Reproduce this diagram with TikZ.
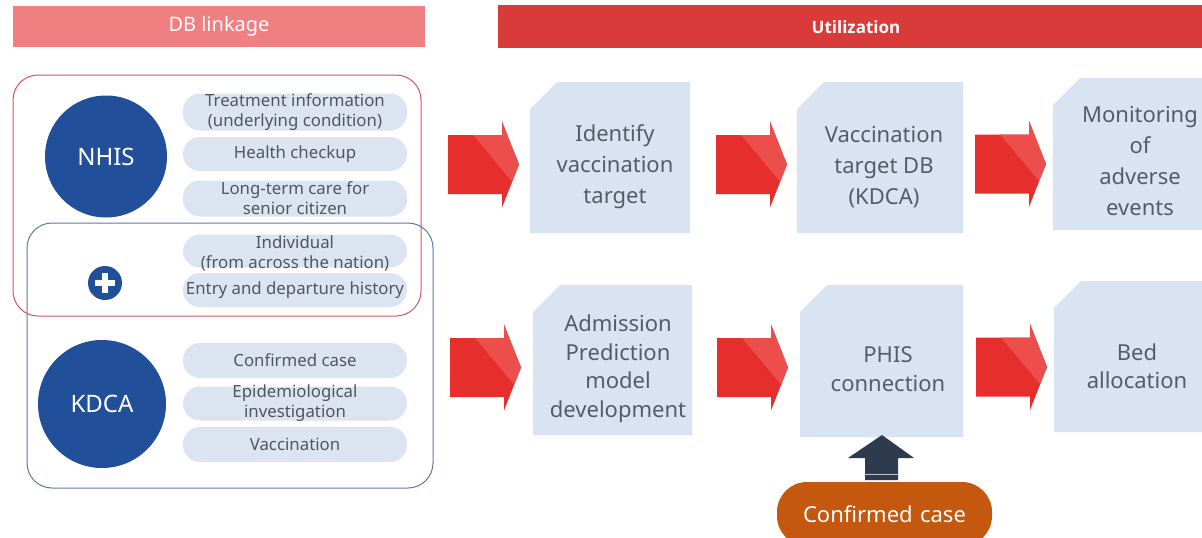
\documentclass[tikz,border=0pt]{standalone}
\usepackage{fontspec}
\setmainfont{Noto Sans}
\newfontfamily\utilfont{Open Sans}
\definecolor{dbbar}{HTML}{EF7F80}
\definecolor{utbar}{HTML}{D93A3A}
\definecolor{redline}{HTML}{D9545A}
\definecolor{blueline}{HTML}{5A7BA8}
\definecolor{pillfill}{HTML}{DCE4F1}
\definecolor{boxfill}{HTML}{DAE3F2}
\definecolor{boxtext}{HTML}{555C67}
\definecolor{pilltext}{HTML}{50565F}
\definecolor{circ}{HTML}{224F99}
\definecolor{circlight}{HTML}{2F5EAA}
\definecolor{arrred}{HTML}{E62E2D}
\definecolor{arrlight}{HTML}{EC4E4B}
\definecolor{navy}{HTML}{2E3B4F}
\definecolor{orangec}{HTML}{C4580F}
\tikzset{
  pill/.style={rectangle, rounded corners=17pt, fill=pillfill, minimum width=224pt, inner sep=0pt},
  pilltxt/.style={text=pilltext, align=center, inner sep=0pt, font=\fontsize{16.8}{20}\selectfont},
  boxtxt/.style={text=boxtext, align=center, inner sep=0pt, font=\fontsize{22}{31}\selectfont},
  boxtxtb/.style={text=boxtext, align=center, inner sep=0pt, font=\fontsize{22}{28.5}\selectfont},
  bigcirc/.style={circle, fill=circ, text=white, inner sep=0pt, font=\fontsize{24}{28}\selectfont},
}
\newcommand{\snipbox}[4]{% x1 y1 x2 y2
  \fill[boxfill] (#1+27,#2) -- (#3,#2) -- (#3,#4) -- (#1,#4) -- (#1,#2+27) -- cycle;}
\newcommand{\redarrow}[2]{% x0 yc
  \fill[arrred] (#1,#2-29.5) -- (#1+54,#2-29.5) -- (#1+54,#2-43) -- (#1+71,#2) -- (#1+54,#2+43) -- (#1+54,#2+29.5) -- (#1,#2+29.5) -- cycle;
  \fill[arrlight] (#1+25,#2-29.5) -- (#1+54,#2-29.5) -- (#1+54,#2-43) -- (#1+71,#2) -- (#1+64,#2+17) -- cycle;}
\begin{document}
\begin{tikzpicture}[x=1pt,y=-1pt]
\useasboundingbox (0,0) rectangle (1202,538);
\clip (0,0) rectangle (1202,538);
\fill[white] (0,0) rectangle (1202,538);

% header bars
\node[fill=dbbar, minimum width=412pt, minimum height=41pt, inner sep=0pt, text=white,
  font=\fontsize{20}{24}\selectfont] (dbl) at (219,26) {DB linkage};
\node[fill=utbar, minimum width=704pt, minimum height=43pt, inner sep=0pt] (util) at (850,26.5) {};
\node[text=white, inner sep=0pt, font=\utilfont\bfseries\fontsize{17}{20}\selectfont] (utilt) at (856,27) {Utilization};

% group outlines
\draw[redline, line width=1pt, rounded corners=25pt] (13,75) rectangle (421,316);
\draw[blueline, line width=1pt, rounded corners=25pt] (27,223) rectangle (433,488);

% circles
\node[bigcirc, minimum size=122pt] (nhis) at (106,156.5) {};
\begin{scope}
  \clip (106,156.5) circle (61);
  \fill[circlight] (135,80) -- (200,80) -- (200,160) -- cycle;
\end{scope}
\node[text=white, font=\fontsize{24}{28}\selectfont] (nhist) at (nhis.center) {NHIS};

\node[bigcirc, minimum size=128pt] (kdca) at (102,404) {};
\begin{scope}
  \clip (102,404) circle (64);
  \fill[circlight] (132,325) -- (200,325) -- (200,410) -- cycle;
\end{scope}
\node[text=white, font=\fontsize{24}{28}\selectfont] (kdcat) at (kdca.center) {KDCA};

% plus icon
\node[circle, fill=circ, minimum size=34pt, inner sep=0pt] (plus) at (105,283) {};
\fill[white] (plus.center) ++(-10,-3.2) rectangle ++(20,6.4);
\fill[white] (plus.center) ++(-3.2,-10) rectangle ++(6.4,20);

% pills
\node[pill, minimum height=37pt] (p1) at (295,112) {};
\node[pilltxt] (p1t) at (p1.center) {Treatment information\\(underlying condition)};
\node[pill, minimum height=34pt] (p2) at (295,154) {};
\node[pilltxt] (p2t) at (p2.center) {Health checkup};
\node[pill, minimum height=36pt] (p3) at (295,198.5) {};
\node[pilltxt] (p3t) at (p3.center) {Long-term care for\\senior citizen};
\node[pill, minimum height=33pt] (p4) at (295,251) {};
\node[pilltxt] (p4t) at (295,253) {Individual\\(from across the nation)};
\node[pill, minimum height=34pt] (p5) at (295,290) {};
\node[pilltxt] (p5t) at (p5.center) {Entry and departure history};
\node[pill, minimum height=35pt] (p6) at (295,360.5) {};
\node[pilltxt] (p6t) at (p6.center) {Confirmed case};
\node[pill, minimum height=34pt] (p7) at (295,403.5) {};
\node[pilltxt] (p7t) at (p7.center) {Epidemiological\\investigation};
\node[pill, minimum height=35pt] (p8) at (295,444.5) {};
\node[pilltxt] (p8t) at (p8.center) {Vaccination};

% process boxes row 1
\snipbox{530}{82}{690}{233}
\node[boxtxt] (b1) at (615,167) {Identify\\vaccination\\target};
\snipbox{797}{82}{963}{233}
\node[boxtxt] (b2) at (884,167) {Vaccination\\target DB\\(KDCA)};
\snipbox{1053}{78}{1240}{230}
\node[boxtxt] (b3) at (1140,161) {Monitoring\\of\\adverse\\events};

% process boxes row 2
\snipbox{533}{285}{692}{435}
\node[boxtxtb] (b4) at (618,369) {Admission\\Prediction\\model\\development};
\snipbox{800}{285}{963}{437}
\node[boxtxtb] (b5) at (888,369) {PHIS\\connection};
\snipbox{1054}{281}{1240}{432}
\node[boxtxtb] (b6) at (1137,366) {Bed\\allocation};

% red block arrows
\redarrow{448}{164.5}
\redarrow{716}{164.5}
\redarrow{975}{164}
\redarrow{450}{367.5}
\redarrow{717}{367.5}
\redarrow{976}{367}

% confirmed case
\node[fill=orangec, rounded corners=30pt, minimum width=215pt, minimum height=64pt, inner sep=0pt,
  text=white, font=\fontsize{22}{26}\selectfont] (cc) at (884.5,514) {Confirmed\,\,case};
\fill[navy] (882,435) -- (914,458) -- (898,458) -- (898,480) -- (865,480) -- (865,458) -- (848,458) -- cycle;
\draw[white!70!navy, line width=0.8pt] (865,474.5) -- (898,474.5);
\end{tikzpicture}
\end{document}
